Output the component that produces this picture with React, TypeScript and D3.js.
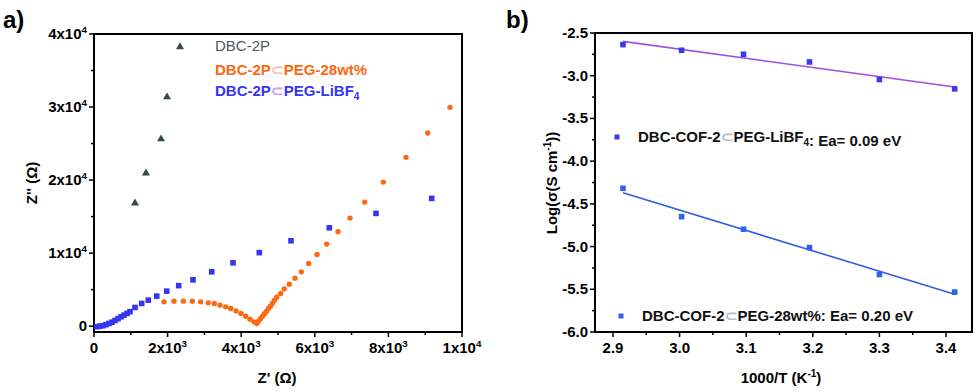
import { useRef, useEffect } from 'react';
import * as d3 from 'd3';

const W = 976;
const H = 392;
const FONT = '"Liberation Sans", Arial, Helvetica, sans-serif';

// a) Nyquist plots: Z' (ohm), Z'' (ohm)
const dbc2p = [[1114, 16850], [1413, 20960], [1821, 25620], [1984, 31370], [2337, 38220]];
const peg28 = [
  [1902, 3329], [2174, 3425], [2427, 3425], [2671, 3425], [2899, 3329], [3106, 3192],
  [3269, 3110], [3424, 2877], [3579, 2644], [3715, 2425], [3859, 2096], [3995, 1740],
  [4122, 1370], [4239, 959], [4348, 589], [4421, 370], [4470, 685], [4524, 1027],
  [4579, 1370], [4633, 1712], [4688, 2055], [4742, 2425], [4796, 2740], [4851, 3151],
  [4905, 3562], [4965, 3973], [5073, 4479], [5171, 5110], [5307, 5753], [5462, 6575],
  [5633, 7438], [5834, 8589], [6060, 9822], [6323, 11233], [6630, 12918], [6957, 14795],
  [7356, 16986], [7861, 19726], [8478, 23110], [9068, 26438], [9674, 29959],
];
const pegLiBF4 = [
  [82, -68], [163, 0], [245, 68], [326, 205], [408, 370], [489, 548], [571, 781],
  [652, 1027], [734, 1274], [815, 1507], [897, 1740], [978, 1986], [1114, 2562],
  [1296, 3110], [1476, 3562], [1704, 4110], [1976, 4795], [2302, 5548], [2690, 6342],
  [3198, 7438], [3777, 8671], [4492, 10068], [5353, 11685], [6394, 13466],
  [7663, 15438], [9177, 17493],
];

// b) Arrhenius plots: 1000/T (K^-1), log(sigma)
const invT = [2.915, 3.003, 3.096, 3.195, 3.3, 3.413];
const logSigmaLiBF4 = [-2.636, -2.702, -2.749, -2.839, -3.044, -3.154];
const logSigma28 = [-4.318, -4.65, -4.797, -5.012, -5.327, -5.533];

const aXTicks = [0, 2000, 4000, 6000, 8000, 10000];
const aXLabels = ['0', '2x10^3', '4x10^3', '6x10^3', '8x10^3', '1x10^4'];
const aXMinor = [1000, 3000, 5000, 7000, 9000];
const aYTicks = [0, 10000, 20000, 30000, 40000];
const aYLabels = ['0', '1x10^4', '2x10^4', '3x10^4', '4x10^4'];
const aYMinor = [5000, 15000, 25000, 35000];
const bXTicks = [2.9, 3.0, 3.1, 3.2, 3.3, 3.4];
const bXMinor = [2.95, 3.05, 3.15, 3.25, 3.35];
const bYTicks = [-6.0, -5.5, -5.0, -4.5, -4.0, -3.5, -3.0, -2.5];
const bYMinor = [-5.75, -5.25, -4.75, -4.25, -3.75, -3.25, -2.75];

function fit(xs: number[], ys: number[]) {
  const mx = d3.mean(xs)!;
  const my = d3.mean(ys)!;
  const sxy = d3.sum(xs, (x, i) => (x - mx) * (ys[i] - my));
  const sxx = d3.sum(xs, x => (x - mx) * (x - mx));
  const k = sxy / sxx;
  return (x: number) => my + k * (x - mx);
}

function supText(sel: any, label: string, size: number) {
  const [base, sup] = label.split('^');
  sel.append('tspan').text(base);
  if (sup) sel.append('tspan').attr('dy', -6).attr('font-size', size * 0.65).text(sup);
}

function frame(g: any, x: any, y: any, xTicks: number[], xMinor: number[], yTicks: number[], yMinor: number[],
  xLab: (v: number, i: number) => string, yLab: (v: number, i: number) => string) {
  const [x0, x1] = x.range();
  const [y0, y1] = y.range();
  g.append('rect').attr('x', x0).attr('y', y1).attr('width', x1 - x0).attr('height', y0 - y1)
    .attr('fill', 'none').attr('stroke', '#000').attr('stroke-width', 2);
  xTicks.forEach((v, i) => {
    g.append('line').attr('x1', x(v)).attr('x2', x(v)).attr('y1', y0).attr('y2', y0 + 5)
      .attr('stroke', '#000').attr('stroke-width', 1.5);
    const t = g.append('text').attr('x', x(v)).attr('y', y0 + 21).attr('text-anchor', 'middle')
      .attr('font-size', 15).attr('font-weight', 'bold');
    supText(t, xLab(v, i), 15);
  });
  xMinor.forEach(v => g.append('line').attr('x1', x(v)).attr('x2', x(v)).attr('y1', y0).attr('y2', y0 + 3)
    .attr('stroke', '#000').attr('stroke-width', 1.5));
  yTicks.forEach((v, i) => {
    g.append('line').attr('x1', x0 - 5).attr('x2', x0).attr('y1', y(v)).attr('y2', y(v))
      .attr('stroke', '#000').attr('stroke-width', 1.5);
    const t = g.append('text').attr('x', x0 - 7).attr('y', y(v) + 5).attr('text-anchor', 'end')
      .attr('font-size', 15).attr('font-weight', 'bold');
    supText(t, yLab(v, i), 15);
  });
  yMinor.forEach(v => g.append('line').attr('x1', x0 - 3).attr('x2', x0).attr('y1', y(v)).attr('y2', y(v))
    .attr('stroke', '#000').attr('stroke-width', 1.5));
}

function legendText(g: any, x: number, y: number, parts: [string, string][], weight = 'bold') {
  const t = g.append('text').attr('x', x).attr('y', y).attr('font-size', 15).attr('font-weight', weight);
  parts.forEach(([s, c]) => {
    if (s.startsWith('_')) {
      t.append('tspan').attr('dy', 4).attr('font-size', 10).attr('fill', c).text(s.slice(1));
      t.append('tspan').attr('dy', -4).text('');
    } else t.append('tspan').attr('fill', c).text(s);
  });
}

export default function App() {
  const svgRef = useRef(null);

  useEffect(() => {
    const svg = d3.select(svgRef.current);
    svg.selectAll('*').remove();
    const g = svg.append('g').attr('font-family', FONT);

    // ---- panel a
    const xa = d3.scaleLinear().domain([0, 10000]).range([94, 462]);
    const ya = d3.scaleLinear().domain([-800, 40000]).range([332, 34]);
    frame(g, xa, ya, aXTicks, aXMinor, aYTicks, aYMinor, (_, i) => aXLabels[i], (_, i) => aYLabels[i]);

    g.selectAll(null).data(peg28).join('circle')
      .attr('cx', d => xa(d[0])).attr('cy', d => ya(d[1])).attr('r', 2.7).attr('fill', '#fb6a12');
    g.selectAll(null).data(pegLiBF4).join('rect')
      .attr('x', d => xa(d[0]) - 2.8).attr('y', d => ya(d[1]) - 2.8).attr('width', 5.6).attr('height', 5.6)
      .attr('fill', '#3535f2');
    const tri = d3.symbol(d3.symbolTriangle, 28);
    g.selectAll(null).data(dbc2p).join('path')
      .attr('d', tri).attr('transform', d => `translate(${xa(d[0])},${ya(d[1])})`).attr('fill', '#34494a');

    g.append('text').attr('x', 215).attr('y', 51).attr('font-size', 15).attr('fill', '#4a5a5a').text('DBC-2P');
    legendText(g, 215, 75, [['DBC-2P', '#fb6a12'], ['⊂', '#f8c0b0'], ['PEG-28wt%', '#fb6a12']]);
    legendText(g, 215, 96, [['DBC-2P', '#3535f2'], ['⊂', '#c8a0f0'], ['PEG-LiBF', '#3535f2'], ['_4', '#3535f2']]);

    g.append('text').attr('x', 277).attr('y', 383).attr('text-anchor', 'middle')
      .attr('font-size', 15).attr('font-weight', 'bold').text("Z' (Ω)");
    g.append('text').attr('transform', 'translate(37,183) rotate(-90)').attr('text-anchor', 'middle')
      .attr('font-size', 15).attr('font-weight', 'bold').text("Z'' (Ω)");
    g.append('text').attr('x', 3).attr('y', 28).attr('font-size', 24).attr('font-weight', 'bold').text('a)');

    // ---- panel b
    const xb = d3.scaleLinear().domain([2.873, 3.439]).range([595, 972]);
    const yb = d3.scaleLinear().domain([-6, -2.5]).range([332, 33]);
    frame(g, xb, yb, bXTicks, bXMinor, bYTicks, bYMinor, v => v.toFixed(1), v => v.toFixed(1));

    const fitA = fit(invT, logSigmaLiBF4);
    const fitB = fit(invT, logSigma28);
    const ends = [invT[0], invT[invT.length - 1]];
    const line = (f: (x: number) => number) => d3.line<number>().x(v => xb(v)).y(v => yb(f(v)))(ends);
    g.append('path').attr('d', line(fitA)).attr('fill', 'none').attr('stroke', '#9d4fe0').attr('stroke-width', 1.6);
    g.append('path').attr('d', line(fitB)).attr('fill', 'none').attr('stroke', '#2f5fe0').attr('stroke-width', 1.6);
    g.selectAll(null).data(invT).join('rect')
      .attr('x', (d) => xb(d) - 2.8).attr('y', (d, i) => yb(logSigmaLiBF4[i]) - 2.8)
      .attr('width', 5.6).attr('height', 5.6).attr('fill', '#3838ee');
    g.selectAll(null).data(invT).join('rect')
      .attr('x', (d) => xb(d) - 2.8).attr('y', (d, i) => yb(logSigma28[i]) - 2.8)
      .attr('width', 5.6).attr('height', 5.6).attr('fill', '#2f62e8');

    g.append('rect').attr('x', 614.5).attr('y', 134.5).attr('width', 5).attr('height', 5).attr('fill', '#3838ee');
    legendText(g, 638, 142, [['DBC-COF-2', '#111'], ['⊂', '#b8c0c0'], ['PEG-LiBF', '#111'], ['_4', '#111'], [': Ea= 0.09 eV', '#111']]);
    g.append('rect').attr('x', 618.5).attr('y', 313.5).attr('width', 5).attr('height', 5).attr('fill', '#2f62e8');
    legendText(g, 642, 321, [['DBC-COF-2', '#111'], ['⊂', '#b8c0c0'], ['PEG-28wt%: Ea= 0.20 eV', '#111']]);

    const xt = g.append('text').attr('x', 781).attr('y', 383).attr('text-anchor', 'middle')
      .attr('font-size', 15).attr('font-weight', 'bold');
    xt.append('tspan').text('1000/T (K');
    xt.append('tspan').attr('dy', -6).attr('font-size', 10).text('-1');
    xt.append('tspan').attr('dy', 6).text(')');
    const yt = g.append('text').attr('transform', 'translate(557,183) rotate(-90)').attr('text-anchor', 'middle')
      .attr('font-size', 15).attr('font-weight', 'bold');
    yt.append('tspan').text('Log(σ(S cm');
    yt.append('tspan').attr('dy', -6).attr('font-size', 10).text('-1');
    yt.append('tspan').attr('dy', 6).text('))');
    g.append('text').attr('x', 506).attr('y', 28).attr('font-size', 24).attr('font-weight', 'bold').text('b)');
  }, []);

  return (
    <svg ref={svgRef} width={W} height={H}
      style={{ position: 'absolute', left: 0, top: 0, background: '#fff' }} />
  );
}
